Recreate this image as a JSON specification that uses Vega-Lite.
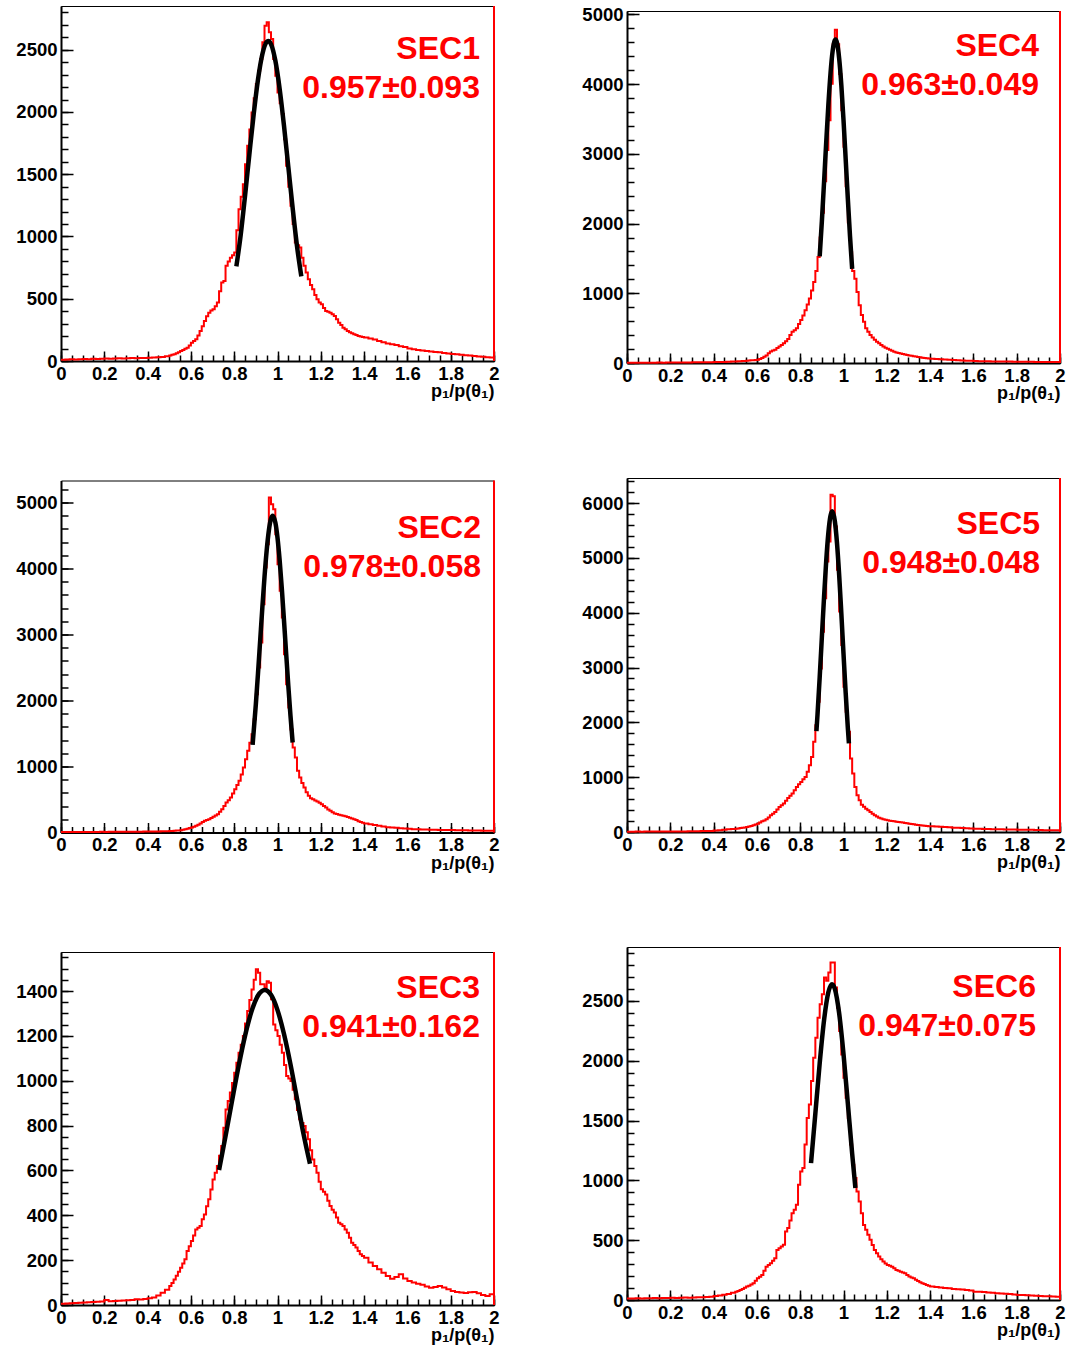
{
"$schema":"https://vega.github.io/schema/vega-lite/v6.json",
"background":"white",
"padding":{"left":15,"top":4,"right":5,"bottom":5},
"spacing":81,
"center":true,
"config":{
 "view":{"stroke":"#000000","strokeWidth":1},
 "axis":{"labelFont":"Liberation Sans","labelFontWeight":"bold","labelFontSize":18.5,"labelColor":"#000000","tickColor":"#000000","tickWidth":1.5,"domainColor":"#000000","domainWidth":2,"labelFlush":false,"labelOverlap":false,"labelBound":false,"grid":false,"format":"~r","titleFont":"Liberation Sans","titleFontWeight":"bold","titleFontSize":18,"titleColor":"#000000"}
},
"datasets":{
"hist":[
{"x":0.00,"SEC1":10,"SEC2":6,"SEC3":6,"SEC4":3,"SEC5":6,"SEC6":12},
{"x":0.02,"SEC1":12,"SEC2":7,"SEC3":7,"SEC4":3,"SEC5":6,"SEC6":13},
{"x":0.04,"SEC1":14,"SEC2":6,"SEC3":8,"SEC4":4,"SEC5":7,"SEC6":14},
{"x":0.06,"SEC1":13,"SEC2":8,"SEC3":9,"SEC4":4,"SEC5":6,"SEC6":13},
{"x":0.08,"SEC1":15,"SEC2":7,"SEC3":10,"SEC4":5,"SEC5":7,"SEC6":15},
{"x":0.10,"SEC1":16,"SEC2":8,"SEC3":11,"SEC4":4,"SEC5":8,"SEC6":14},
{"x":0.12,"SEC1":15,"SEC2":9,"SEC3":12,"SEC4":5,"SEC5":7,"SEC6":16},
{"x":0.14,"SEC1":18,"SEC2":8,"SEC3":13,"SEC4":6,"SEC5":8,"SEC6":15},
{"x":0.16,"SEC1":17,"SEC2":9,"SEC3":14,"SEC4":5,"SEC5":9,"SEC6":17},
{"x":0.18,"SEC1":19,"SEC2":10,"SEC3":16,"SEC4":6,"SEC5":8,"SEC6":16},
{"x":0.20,"SEC1":20,"SEC2":9,"SEC3":22,"SEC4":7,"SEC5":9,"SEC6":18},
{"x":0.22,"SEC1":18,"SEC2":10,"SEC3":17,"SEC4":6,"SEC5":10,"SEC6":17},
{"x":0.24,"SEC1":21,"SEC2":11,"SEC3":18,"SEC4":7,"SEC5":11,"SEC6":19},
{"x":0.26,"SEC1":22,"SEC2":10,"SEC3":19,"SEC4":8,"SEC5":10,"SEC6":20},
{"x":0.28,"SEC1":20,"SEC2":11,"SEC3":20,"SEC4":8,"SEC5":12,"SEC6":19},
{"x":0.30,"SEC1":23,"SEC2":12,"SEC3":21,"SEC4":9,"SEC5":13,"SEC6":21},
{"x":0.32,"SEC1":24,"SEC2":11,"SEC3":22,"SEC4":10,"SEC5":14,"SEC6":22},
{"x":0.34,"SEC1":22,"SEC2":12,"SEC3":26,"SEC4":10,"SEC5":16,"SEC6":24},
{"x":0.36,"SEC1":25,"SEC2":13,"SEC3":24,"SEC4":11,"SEC5":18,"SEC6":26},
{"x":0.38,"SEC1":24,"SEC2":14,"SEC3":27,"SEC4":12,"SEC5":20,"SEC6":28},
{"x":0.40,"SEC1":26,"SEC2":14,"SEC3":30,"SEC4":13,"SEC5":28,"SEC6":34},
{"x":0.42,"SEC1":28,"SEC2":15,"SEC3":33,"SEC4":14,"SEC5":34,"SEC6":38},
{"x":0.44,"SEC1":30,"SEC2":16,"SEC3":42,"SEC4":16,"SEC5":42,"SEC6":44},
{"x":0.46,"SEC1":32,"SEC2":18,"SEC3":55,"SEC4":18,"SEC5":48,"SEC6":50},
{"x":0.48,"SEC1":38,"SEC2":20,"SEC3":68,"SEC4":20,"SEC5":55,"SEC6":60},
{"x":0.50,"SEC1":45,"SEC2":22,"SEC3":85,"SEC4":22,"SEC5":61,"SEC6":70},
{"x":0.51,"SEC1":50,"SEC2":24,"SEC3":98,"SEC4":24,"SEC5":66,"SEC6":76},
{"x":0.52,"SEC1":55,"SEC2":26,"SEC3":114,"SEC4":25,"SEC5":72,"SEC6":84},
{"x":0.53,"SEC1":62,"SEC2":29,"SEC3":130,"SEC4":27,"SEC5":78,"SEC6":92},
{"x":0.54,"SEC1":70,"SEC2":32,"SEC3":148,"SEC4":30,"SEC5":84,"SEC6":102},
{"x":0.55,"SEC1":80,"SEC2":35,"SEC3":166,"SEC4":33,"SEC5":91,"SEC6":112},
{"x":0.56,"SEC1":88,"SEC2":42,"SEC3":185,"SEC4":35,"SEC5":100,"SEC6":120},
{"x":0.57,"SEC1":98,"SEC2":50,"SEC3":204,"SEC4":38,"SEC5":110,"SEC6":130},
{"x":0.58,"SEC1":107,"SEC2":58,"SEC3":241,"SEC4":40,"SEC5":122,"SEC6":140},
{"x":0.59,"SEC1":125,"SEC2":67,"SEC3":262,"SEC4":44,"SEC5":137,"SEC6":160},
{"x":0.60,"SEC1":147,"SEC2":76,"SEC3":285,"SEC4":47,"SEC5":152,"SEC6":182},
{"x":0.61,"SEC1":160,"SEC2":88,"SEC3":310,"SEC4":58,"SEC5":172,"SEC6":195},
{"x":0.62,"SEC1":174,"SEC2":101,"SEC3":337,"SEC4":71,"SEC5":195,"SEC6":209},
{"x":0.63,"SEC1":205,"SEC2":118,"SEC3":345,"SEC4":90,"SEC5":212,"SEC6":245},
{"x":0.64,"SEC1":241,"SEC2":136,"SEC3":352,"SEC4":109,"SEC5":231,"SEC6":279},
{"x":0.65,"SEC1":280,"SEC2":158,"SEC3":382,"SEC4":140,"SEC5":265,"SEC6":292},
{"x":0.66,"SEC1":321,"SEC2":177,"SEC3":404,"SEC4":166,"SEC5":305,"SEC6":307},
{"x":0.67,"SEC1":360,"SEC2":190,"SEC3":440,"SEC4":178,"SEC5":335,"SEC6":328},
{"x":0.68,"SEC1":388,"SEC2":202,"SEC3":471,"SEC4":190,"SEC5":365,"SEC6":349},
{"x":0.69,"SEC1":405,"SEC2":220,"SEC3":515,"SEC4":215,"SEC5":410,"SEC6":419},
{"x":0.70,"SEC1":415,"SEC2":237,"SEC3":560,"SEC4":237,"SEC5":457,"SEC6":433},
{"x":0.71,"SEC1":440,"SEC2":258,"SEC3":590,"SEC4":260,"SEC5":488,"SEC6":447},
{"x":0.72,"SEC1":469,"SEC2":278,"SEC3":620,"SEC4":284,"SEC5":518,"SEC6":461},
{"x":0.73,"SEC1":560,"SEC2":315,"SEC3":665,"SEC4":312,"SEC5":570,"SEC6":573},
{"x":0.74,"SEC1":630,"SEC2":354,"SEC3":709,"SEC4":346,"SEC5":621,"SEC6":601},
{"x":0.75,"SEC1":643,"SEC2":400,"SEC3":790,"SEC4":400,"SEC5":660,"SEC6":665},
{"x":0.76,"SEC1":764,"SEC2":455,"SEC3":872,"SEC4":450,"SEC5":700,"SEC6":726},
{"x":0.77,"SEC1":800,"SEC2":490,"SEC3":910,"SEC4":470,"SEC5":760,"SEC6":754},
{"x":0.78,"SEC1":830,"SEC2":530,"SEC3":947,"SEC4":498,"SEC5":822,"SEC6":796},
{"x":0.79,"SEC1":850,"SEC2":590,"SEC3":990,"SEC4":560,"SEC5":870,"SEC6":964},
{"x":0.80,"SEC1":871,"SEC2":657,"SEC3":1036,"SEC4":616,"SEC5":914,"SEC6":1075},
{"x":0.81,"SEC1":1050,"SEC2":720,"SEC3":1080,"SEC4":680,"SEC5":960,"SEC6":1103},
{"x":0.82,"SEC1":1219,"SEC2":783,"SEC3":1125,"SEC4":758,"SEC5":1005,"SEC6":1299},
{"x":0.83,"SEC1":1320,"SEC2":880,"SEC3":1160,"SEC4":840,"SEC5":1100,"SEC6":1522},
{"x":0.84,"SEC1":1420,"SEC2":985,"SEC3":1199,"SEC4":924,"SEC5":1218,"SEC6":1634},
{"x":0.85,"SEC1":1580,"SEC2":1110,"SEC3":1255,"SEC4":1040,"SEC5":1370,"SEC6":1830},
{"x":0.86,"SEC1":1728,"SEC2":1237,"SEC3":1311,"SEC4":1161,"SEC5":1644,"SEC6":2025},
{"x":0.87,"SEC1":1860,"SEC2":1360,"SEC3":1360,"SEC4":1320,"SEC5":1949,"SEC6":2193},
{"x":0.88,"SEC1":1996,"SEC2":1490,"SEC3":1407,"SEC4":1520,"SEC5":2375,"SEC6":2360},
{"x":0.89,"SEC1":2110,"SEC2":1717,"SEC3":1450,"SEC4":1801,"SEC5":2984,"SEC6":2472},
{"x":0.90,"SEC1":2224,"SEC2":2096,"SEC3":1497,"SEC4":2156,"SEC5":3654,"SEC6":2556},
{"x":0.91,"SEC1":2330,"SEC2":2500,"SEC3":1482,"SEC4":2607,"SEC5":4263,"SEC6":2696},
{"x":0.92,"SEC1":2425,"SEC2":2879,"SEC3":1430,"SEC4":3057,"SEC5":4933,"SEC6":2668},
{"x":0.93,"SEC1":2560,"SEC2":3460,"SEC3":1430,"SEC4":3483,"SEC5":5298,"SEC6":2737},
{"x":0.94,"SEC1":2693,"SEC2":4015,"SEC3":1415,"SEC4":4005,"SEC5":6151,"SEC6":2821},
{"x":0.95,"SEC1":2720,"SEC2":4369,"SEC3":1444,"SEC4":4573,"SEC5":6121,"SEC6":2821},
{"x":0.96,"SEC1":2640,"SEC2":5076,"SEC3":1437,"SEC4":4780,"SEC5":5573,"SEC6":2612},
{"x":0.97,"SEC1":2586,"SEC2":4975,"SEC3":1363,"SEC4":4573,"SEC5":4781,"SEC6":2444},
{"x":0.98,"SEC1":2425,"SEC2":4899,"SEC3":1251,"SEC4":4147,"SEC5":4020,"SEC6":2249},
{"x":0.99,"SEC1":2290,"SEC2":4520,"SEC3":1225,"SEC4":3626,"SEC5":3410,"SEC6":2053},
{"x":1.00,"SEC1":2157,"SEC2":4066,"SEC3":1199,"SEC4":3104,"SEC5":2649,"SEC6":1858},
{"x":1.01,"SEC1":2070,"SEC2":3662,"SEC3":1160,"SEC4":2536,"SEC5":2192,"SEC6":1690},
{"x":1.02,"SEC1":1983,"SEC2":3258,"SEC3":1125,"SEC4":2014,"SEC5":1827,"SEC6":1522},
{"x":1.03,"SEC1":1780,"SEC2":2702,"SEC3":1070,"SEC4":1588,"SEC5":1340,"SEC6":1299},
{"x":1.04,"SEC1":1568,"SEC2":2247,"SEC3":1021,"SEC4":1320,"SEC5":1066,"SEC6":1131},
{"x":1.05,"SEC1":1400,"SEC2":1894,"SEC3":1010,"SEC4":1209,"SEC5":822,"SEC6":1020},
{"x":1.06,"SEC1":1246,"SEC2":1560,"SEC3":999,"SEC4":1019,"SEC5":670,"SEC6":908},
{"x":1.07,"SEC1":1100,"SEC2":1288,"SEC3":960,"SEC4":829,"SEC5":579,"SEC6":824},
{"x":1.08,"SEC1":951,"SEC2":1136,"SEC3":917,"SEC4":687,"SEC5":499,"SEC6":726},
{"x":1.09,"SEC1":930,"SEC2":934,"SEC3":870,"SEC4":592,"SEC5":460,"SEC6":628},
{"x":1.10,"SEC1":911,"SEC2":833,"SEC3":828,"SEC4":498,"SEC5":426,"SEC6":587},
{"x":1.11,"SEC1":830,"SEC2":750,"SEC3":812,"SEC4":450,"SEC5":395,"SEC6":545},
{"x":1.12,"SEC1":764,"SEC2":682,"SEC3":798,"SEC4":403,"SEC5":365,"SEC6":503},
{"x":1.13,"SEC1":710,"SEC2":610,"SEC3":770,"SEC4":365,"SEC5":335,"SEC6":460},
{"x":1.14,"SEC1":656,"SEC2":556,"SEC3":739,"SEC4":332,"SEC5":305,"SEC6":419},
{"x":1.15,"SEC1":610,"SEC2":520,"SEC3":690,"SEC4":305,"SEC5":282,"SEC6":390},
{"x":1.16,"SEC1":576,"SEC2":505,"SEC3":649,"SEC4":284,"SEC5":262,"SEC6":363},
{"x":1.17,"SEC1":530,"SEC2":485,"SEC3":620,"SEC4":260,"SEC5":245,"SEC6":340},
{"x":1.18,"SEC1":496,"SEC2":470,"SEC3":590,"SEC4":237,"SEC5":231,"SEC6":321},
{"x":1.19,"SEC1":470,"SEC2":450,"SEC3":550,"SEC4":220,"SEC5":222,"SEC6":305},
{"x":1.20,"SEC1":455,"SEC2":429,"SEC3":516,"SEC4":204,"SEC5":213,"SEC6":293},
{"x":1.21,"SEC1":425,"SEC2":400,"SEC3":505,"SEC4":190,"SEC5":206,"SEC6":286},
{"x":1.22,"SEC1":402,"SEC2":379,"SEC3":493,"SEC4":175,"SEC5":200,"SEC6":279},
{"x":1.23,"SEC1":395,"SEC2":350,"SEC3":465,"SEC4":163,"SEC5":194,"SEC6":265},
{"x":1.24,"SEC1":388,"SEC2":328,"SEC3":441,"SEC4":152,"SEC5":188,"SEC6":251},
{"x":1.25,"SEC1":375,"SEC2":305,"SEC3":425,"SEC4":142,"SEC5":183,"SEC6":244},
{"x":1.26,"SEC1":362,"SEC2":288,"SEC3":412,"SEC4":135,"SEC5":177,"SEC6":237},
{"x":1.27,"SEC1":335,"SEC2":280,"SEC3":390,"SEC4":128,"SEC5":171,"SEC6":230},
{"x":1.28,"SEC1":308,"SEC2":270,"SEC3":367,"SEC4":121,"SEC5":164,"SEC6":223},
{"x":1.29,"SEC1":290,"SEC2":262,"SEC3":360,"SEC4":115,"SEC5":158,"SEC6":210},
{"x":1.30,"SEC1":268,"SEC2":253,"SEC3":352,"SEC4":109,"SEC5":152,"SEC6":196},
{"x":1.31,"SEC1":255,"SEC2":245,"SEC3":337,"SEC4":103,"SEC5":146,"SEC6":189},
{"x":1.32,"SEC1":241,"SEC2":235,"SEC3":322,"SEC4":97,"SEC5":140,"SEC6":182},
{"x":1.33,"SEC1":230,"SEC2":225,"SEC3":300,"SEC4":92,"SEC5":134,"SEC6":170},
{"x":1.34,"SEC1":222,"SEC2":212,"SEC3":278,"SEC4":86,"SEC5":128,"SEC6":159},
{"x":1.35,"SEC1":214,"SEC2":202,"SEC3":267,"SEC4":81,"SEC5":122,"SEC6":148},
{"x":1.36,"SEC1":208,"SEC2":188,"SEC3":256,"SEC4":77,"SEC5":118,"SEC6":140},
{"x":1.37,"SEC1":200,"SEC2":172,"SEC3":241,"SEC4":73,"SEC5":114,"SEC6":133},
{"x":1.38,"SEC1":196,"SEC2":158,"SEC3":226,"SEC4":69,"SEC5":110,"SEC6":126},
{"x":1.39,"SEC1":192,"SEC2":146,"SEC3":218,"SEC4":65,"SEC5":107,"SEC6":119},
{"x":1.40,"SEC1":188,"SEC2":136,"SEC3":211,"SEC4":62,"SEC5":104,"SEC6":112},
{"x":1.42,"SEC1":180,"SEC2":125,"SEC3":189,"SEC4":58,"SEC5":100,"SEC6":108},
{"x":1.44,"SEC1":172,"SEC2":112,"SEC3":174,"SEC4":54,"SEC5":95,"SEC6":104},
{"x":1.46,"SEC1":161,"SEC2":101,"SEC3":159,"SEC4":50,"SEC5":90,"SEC6":100},
{"x":1.48,"SEC1":150,"SEC2":90,"SEC3":144,"SEC4":46,"SEC5":85,"SEC6":98},
{"x":1.50,"SEC1":140,"SEC2":80,"SEC3":129,"SEC4":43,"SEC5":79,"SEC6":92},
{"x":1.52,"SEC1":134,"SEC2":76,"SEC3":117,"SEC4":40,"SEC5":76,"SEC6":90},
{"x":1.54,"SEC1":128,"SEC2":72,"SEC3":125,"SEC4":37,"SEC5":73,"SEC6":88},
{"x":1.56,"SEC1":118,"SEC2":66,"SEC3":137,"SEC4":34,"SEC5":70,"SEC6":84},
{"x":1.58,"SEC1":112,"SEC2":60,"SEC3":118,"SEC4":31,"SEC5":66,"SEC6":80},
{"x":1.60,"SEC1":100,"SEC2":55,"SEC3":107,"SEC4":28,"SEC5":61,"SEC6":70},
{"x":1.62,"SEC1":94,"SEC2":51,"SEC3":100,"SEC4":26,"SEC5":58,"SEC6":68},
{"x":1.64,"SEC1":88,"SEC2":48,"SEC3":95,"SEC4":25,"SEC5":56,"SEC6":66},
{"x":1.66,"SEC1":84,"SEC2":46,"SEC3":90,"SEC4":24,"SEC5":54,"SEC6":62},
{"x":1.68,"SEC1":80,"SEC2":44,"SEC3":82,"SEC4":23,"SEC5":52,"SEC6":60},
{"x":1.70,"SEC1":76,"SEC2":42,"SEC3":77,"SEC4":22,"SEC5":49,"SEC6":56},
{"x":1.72,"SEC1":72,"SEC2":40,"SEC3":80,"SEC4":21,"SEC5":48,"SEC6":54},
{"x":1.74,"SEC1":70,"SEC2":39,"SEC3":85,"SEC4":20,"SEC5":47,"SEC6":52},
{"x":1.76,"SEC1":65,"SEC2":38,"SEC3":78,"SEC4":20,"SEC5":46,"SEC6":50},
{"x":1.78,"SEC1":60,"SEC2":37,"SEC3":70,"SEC4":19,"SEC5":44,"SEC6":46},
{"x":1.80,"SEC1":56,"SEC2":36,"SEC3":62,"SEC4":19,"SEC5":43,"SEC6":42},
{"x":1.82,"SEC1":54,"SEC2":35,"SEC3":58,"SEC4":18,"SEC5":42,"SEC6":41},
{"x":1.84,"SEC1":50,"SEC2":34,"SEC3":56,"SEC4":17,"SEC5":40,"SEC6":40},
{"x":1.86,"SEC1":47,"SEC2":33,"SEC3":54,"SEC4":17,"SEC5":39,"SEC6":38},
{"x":1.88,"SEC1":44,"SEC2":31,"SEC3":57,"SEC4":16,"SEC5":37,"SEC6":36},
{"x":1.90,"SEC1":40,"SEC2":30,"SEC3":58,"SEC4":16,"SEC5":36,"SEC6":34},
{"x":1.92,"SEC1":37,"SEC2":29,"SEC3":52,"SEC4":15,"SEC5":34,"SEC6":32},
{"x":1.94,"SEC1":34,"SEC2":28,"SEC3":45,"SEC4":15,"SEC5":33,"SEC6":31},
{"x":1.96,"SEC1":30,"SEC2":27,"SEC3":40,"SEC4":14,"SEC5":31,"SEC6":30},
{"x":1.98,"SEC1":28,"SEC2":26,"SEC3":48,"SEC4":14,"SEC5":30,"SEC6":28},
{"x":2.00,"SEC1":28,"SEC2":26,"SEC3":48,"SEC4":14,"SEC5":30,"SEC6":28}
],
"fit":[
{"p":"SEC1","x":0.81,"f":760},{"p":"SEC1","x":0.83,"f":1012},{"p":"SEC1","x":0.85,"f":1326},{"p":"SEC1","x":0.87,"f":1659},{"p":"SEC1","x":0.89,"f":1982},{"p":"SEC1","x":0.91,"f":2262},{"p":"SEC1","x":0.93,"f":2464},{"p":"SEC1","x":0.95,"f":2563},{"p":"SEC1","x":0.957,"f":2570},{"p":"SEC1","x":0.97,"f":2545},{"p":"SEC1","x":0.99,"f":2413},{"p":"SEC1","x":1.01,"f":2185},{"p":"SEC1","x":1.03,"f":1889},{"p":"SEC1","x":1.05,"f":1559},{"p":"SEC1","x":1.07,"f":1228},{"p":"SEC1","x":1.09,"f":924},{"p":"SEC1","x":1.11,"f":680},
{"p":"SEC2","x":0.885,"f":1327},{"p":"SEC2","x":0.90,"f":1943},{"p":"SEC2","x":0.91,"f":2414},{"p":"SEC2","x":0.92,"f":2911},{"p":"SEC2","x":0.93,"f":3408},{"p":"SEC2","x":0.94,"f":3873},{"p":"SEC2","x":0.95,"f":4272},{"p":"SEC2","x":0.96,"f":4574},{"p":"SEC2","x":0.97,"f":4754},{"p":"SEC2","x":0.978,"f":4800},{"p":"SEC2","x":0.99,"f":4698},{"p":"SEC2","x":1.00,"f":4467},{"p":"SEC2","x":1.01,"f":4122},{"p":"SEC2","x":1.02,"f":3693},{"p":"SEC2","x":1.03,"f":3212},{"p":"SEC2","x":1.04,"f":2711},{"p":"SEC2","x":1.05,"f":2221},{"p":"SEC2","x":1.06,"f":1767},{"p":"SEC2","x":1.07,"f":1364},
{"p":"SEC3","x":0.73,"f":602},{"p":"SEC3","x":0.76,"f":753},{"p":"SEC3","x":0.79,"f":910},{"p":"SEC3","x":0.82,"f":1063},{"p":"SEC3","x":0.85,"f":1200},{"p":"SEC3","x":0.88,"f":1309},{"p":"SEC3","x":0.91,"f":1380},{"p":"SEC3","x":0.941,"f":1405},{"p":"SEC3","x":0.97,"f":1383},{"p":"SEC3","x":1.00,"f":1315},{"p":"SEC3","x":1.03,"f":1208},{"p":"SEC3","x":1.06,"f":1073},{"p":"SEC3","x":1.09,"f":920},{"p":"SEC3","x":1.12,"f":763},{"p":"SEC3","x":1.15,"f":630},
{"p":"SEC4","x":0.89,"f":1530},{"p":"SEC4","x":0.90,"f":2030},{"p":"SEC4","x":0.91,"f":2585},{"p":"SEC4","x":0.92,"f":3157},{"p":"SEC4","x":0.93,"f":3699},{"p":"SEC4","x":0.94,"f":4156},{"p":"SEC4","x":0.95,"f":4479},{"p":"SEC4","x":0.963,"f":4640},{"p":"SEC4","x":0.97,"f":4593},{"p":"SEC4","x":0.98,"f":4369},{"p":"SEC4","x":0.99,"f":3987},{"p":"SEC4","x":1.00,"f":3489},{"p":"SEC4","x":1.01,"f":2929},{"p":"SEC4","x":1.02,"f":2358},{"p":"SEC4","x":1.03,"f":1822},{"p":"SEC4","x":1.04,"f":1350},
{"p":"SEC5","x":0.875,"f":1841},{"p":"SEC5","x":0.88,"f":2145},{"p":"SEC5","x":0.89,"f":2819},{"p":"SEC5","x":0.90,"f":3548},{"p":"SEC5","x":0.91,"f":4276},{"p":"SEC5","x":0.92,"f":4935},{"p":"SEC5","x":0.93,"f":5453},{"p":"SEC5","x":0.94,"f":5769},{"p":"SEC5","x":0.948,"f":5850},{"p":"SEC5","x":0.96,"f":5670},{"p":"SEC5","x":0.97,"f":5267},{"p":"SEC5","x":0.98,"f":4684},{"p":"SEC5","x":0.99,"f":3989},{"p":"SEC5","x":1.00,"f":3253},{"p":"SEC5","x":1.01,"f":2540},{"p":"SEC5","x":1.02,"f":1900},{"p":"SEC5","x":1.025,"f":1616},
{"p":"SEC6","x":0.85,"f":1144},{"p":"SEC6","x":0.87,"f":1559},{"p":"SEC6","x":0.89,"f":1978},{"p":"SEC6","x":0.91,"f":2337},{"p":"SEC6","x":0.93,"f":2573},{"p":"SEC6","x":0.947,"f":2640},{"p":"SEC6","x":0.96,"f":2601},{"p":"SEC6","x":0.98,"f":2396},{"p":"SEC6","x":1.00,"f":2057},{"p":"SEC6","x":1.02,"f":1644},{"p":"SEC6","x":1.04,"f":1224},{"p":"SEC6","x":1.055,"f":936}
],
"labels":[
{"p":"SEC1","t":"SEC1\n0.957±0.093"},
{"p":"SEC2","t":"SEC2\n0.978±0.058"},
{"p":"SEC3","t":"SEC3\n0.941±0.162"},
{"p":"SEC4","t":"SEC4\n0.963±0.049"},
{"p":"SEC5","t":"SEC5\n0.948±0.048"},
{"p":"SEC6","t":"SEC6\n0.947±0.075"}
]
},
"hconcat":[
{"bounds":"flush","spacing":119.5,"vconcat":[
{"width":433,"height":355,"resolve":{"axis":{"x":"independent","y":"independent"}},"layer":[
 {"data":{"name":"hist"},"mark":{"type":"line","interpolate":"step-after","color":"#ff0000","strokeWidth":2},
  "encoding":{"x":{"field":"x","type":"quantitative","scale":{"domain":[0,2],"nice":false,"zero":false},"axis":{"orient":"bottom","values":[0,0.2,0.4,0.6,0.8,1,1.2,1.4,1.6,1.8,2],"tickSize":-10,"labelPadding":13,"title":"p₁/p(θ₁)","titleAnchor":"end","titlePadding":0}},
   "y":{"field":"SEC1","type":"quantitative","scale":{"domain":[0,2851],"nice":false},"axis":{"orient":"left","values":[0,500,1000,1500,2000,2500],"tickSize":-12,"labelPadding":16,"title":null}}}},
 {"data":{"name":"fit"},"transform":[{"filter":"datum.p === 'SEC1'"}],"mark":{"type":"line","color":"#000000","strokeWidth":4.5,"interpolate":"monotone"},
  "encoding":{"x":{"field":"x","type":"quantitative","scale":{"domain":[0,2],"nice":false,"zero":false},"axis":{"orient":"bottom","values":[0,0.05,0.1,0.15,0.2,0.25,0.3,0.35,0.4,0.45,0.5,0.55,0.6,0.65,0.7,0.75,0.8,0.85,0.9,0.95,1,1.05,1.1,1.15,1.2,1.25,1.3,1.35,1.4,1.45,1.5,1.55,1.6,1.65,1.7,1.75,1.8,1.85,1.9,1.95,2],"tickSize":-6,"labels":false,"domain":false,"title":null}},
   "y":{"field":"f","type":"quantitative","scale":{"domain":[0,2851],"nice":false},"axis":{"orient":"left","values":[0,100,200,300,400,500,600,700,800,900,1000,1100,1200,1300,1400,1500,1600,1700,1800,1900,2000,2100,2200,2300,2400,2500,2600,2700,2800],"tickSize":-7,"labels":false,"domain":false,"title":null}}}},
 {"data":{"values":[{}]},"mark":{"type":"rule","color":"#ff0000","strokeWidth":2},"encoding":{"x":{"datum":2,"type":"quantitative","axis":null}}},
 {"data":{"name":"labels"},"transform":[{"filter":"datum.p === 'SEC1'"}],"mark":{"type":"text","align":"right","baseline":"alphabetic","font":"Liberation Sans","fontWeight":"bold","fontSize":32,"color":"#ff0000","lineBreak":"\n","lineHeight":39},
  "encoding":{"x":{"datum":1.935,"type":"quantitative","axis":null},"y":{"datum":2425,"type":"quantitative","axis":null},"text":{"field":"t"}}}
]},
{"width":433,"height":352,"resolve":{"axis":{"x":"independent","y":"independent"}},"layer":[
 {"data":{"name":"hist"},"mark":{"type":"line","interpolate":"step-after","color":"#ff0000","strokeWidth":2},
  "encoding":{"x":{"field":"x","type":"quantitative","scale":{"domain":[0,2],"nice":false,"zero":false},"axis":{"orient":"bottom","values":[0,0.2,0.4,0.6,0.8,1,1.2,1.4,1.6,1.8,2],"tickSize":-10,"labelPadding":13,"title":"p₁/p(θ₁)","titleAnchor":"end","titlePadding":0}},
   "y":{"field":"SEC2","type":"quantitative","scale":{"domain":[0,5333],"nice":false},"axis":{"orient":"left","values":[0,1000,2000,3000,4000,5000],"tickSize":-12,"labelPadding":16,"title":null}}}},
 {"data":{"name":"fit"},"transform":[{"filter":"datum.p === 'SEC2'"}],"mark":{"type":"line","color":"#000000","strokeWidth":4.5,"interpolate":"monotone"},
  "encoding":{"x":{"field":"x","type":"quantitative","scale":{"domain":[0,2],"nice":false,"zero":false},"axis":{"orient":"bottom","values":[0,0.05,0.1,0.15,0.2,0.25,0.3,0.35,0.4,0.45,0.5,0.55,0.6,0.65,0.7,0.75,0.8,0.85,0.9,0.95,1,1.05,1.1,1.15,1.2,1.25,1.3,1.35,1.4,1.45,1.5,1.55,1.6,1.65,1.7,1.75,1.8,1.85,1.9,1.95,2],"tickSize":-6,"labels":false,"domain":false,"title":null}},
   "y":{"field":"f","type":"quantitative","scale":{"domain":[0,5333],"nice":false},"axis":{"orient":"left","values":[0,200,400,600,800,1000,1200,1400,1600,1800,2000,2200,2400,2600,2800,3000,3200,3400,3600,3800,4000,4200,4400,4600,4800,5000,5200],"tickSize":-7,"labels":false,"domain":false,"title":null}}}},
 {"data":{"values":[{}]},"mark":{"type":"rule","color":"#ff0000","strokeWidth":2},"encoding":{"x":{"datum":2,"type":"quantitative","axis":null}}},
 {"data":{"name":"labels"},"transform":[{"filter":"datum.p === 'SEC2'"}],"mark":{"type":"text","align":"right","baseline":"alphabetic","font":"Liberation Sans","fontWeight":"bold","fontSize":32,"color":"#ff0000","lineBreak":"\n","lineHeight":39},
  "encoding":{"x":{"datum":1.94,"type":"quantitative","axis":null},"y":{"datum":4469,"type":"quantitative","axis":null},"text":{"field":"t"}}}
]},
{"width":433,"height":353,"resolve":{"axis":{"x":"independent","y":"independent"}},"layer":[
 {"data":{"name":"hist"},"mark":{"type":"line","interpolate":"step-after","color":"#ff0000","strokeWidth":2},
  "encoding":{"x":{"field":"x","type":"quantitative","scale":{"domain":[0,2],"nice":false,"zero":false},"axis":{"orient":"bottom","values":[0,0.2,0.4,0.6,0.8,1,1.2,1.4,1.6,1.8,2],"tickSize":-10,"labelPadding":13,"title":"p₁/p(θ₁)","titleAnchor":"end","titlePadding":0}},
   "y":{"field":"SEC3","type":"quantitative","scale":{"domain":[0,1574],"nice":false},"axis":{"orient":"left","values":[0,200,400,600,800,1000,1200,1400],"tickSize":-12,"labelPadding":16,"title":null}}}},
 {"data":{"name":"fit"},"transform":[{"filter":"datum.p === 'SEC3'"}],"mark":{"type":"line","color":"#000000","strokeWidth":4.5,"interpolate":"monotone"},
  "encoding":{"x":{"field":"x","type":"quantitative","scale":{"domain":[0,2],"nice":false,"zero":false},"axis":{"orient":"bottom","values":[0,0.05,0.1,0.15,0.2,0.25,0.3,0.35,0.4,0.45,0.5,0.55,0.6,0.65,0.7,0.75,0.8,0.85,0.9,0.95,1,1.05,1.1,1.15,1.2,1.25,1.3,1.35,1.4,1.45,1.5,1.55,1.6,1.65,1.7,1.75,1.8,1.85,1.9,1.95,2],"tickSize":-6,"labels":false,"domain":false,"title":null}},
   "y":{"field":"f","type":"quantitative","scale":{"domain":[0,1574],"nice":false},"axis":{"orient":"left","values":[0,50,100,150,200,250,300,350,400,450,500,550,600,650,700,750,800,850,900,950,1000,1050,1100,1150,1200,1250,1300,1350,1400,1450,1500,1550],"tickSize":-7,"labels":false,"domain":false,"title":null}}}},
 {"data":{"values":[{}]},"mark":{"type":"rule","color":"#ff0000","strokeWidth":2},"encoding":{"x":{"datum":2,"type":"quantitative","axis":null}}},
 {"data":{"name":"labels"},"transform":[{"filter":"datum.p === 'SEC3'"}],"mark":{"type":"text","align":"right","baseline":"alphabetic","font":"Liberation Sans","fontWeight":"bold","fontSize":32,"color":"#ff0000","lineBreak":"\n","lineHeight":39},
  "encoding":{"x":{"datum":1.935,"type":"quantitative","axis":null},"y":{"datum":1369,"type":"quantitative","axis":null},"text":{"field":"t"}}}
]}
]},
{"bounds":"flush","spacing":115,"vconcat":[
{"width":433,"height":352,"resolve":{"axis":{"x":"independent","y":"independent"}},"layer":[
 {"data":{"name":"hist"},"mark":{"type":"line","interpolate":"step-after","color":"#ff0000","strokeWidth":2},
  "encoding":{"x":{"field":"x","type":"quantitative","scale":{"domain":[0,2],"nice":false,"zero":false},"axis":{"orient":"bottom","values":[0,0.2,0.4,0.6,0.8,1,1.2,1.4,1.6,1.8,2],"tickSize":-10,"labelPadding":13,"title":"p₁/p(θ₁)","titleAnchor":"end","titlePadding":0}},
   "y":{"field":"SEC4","type":"quantitative","scale":{"domain":[0,5050],"nice":false},"axis":{"orient":"left","values":[0,1000,2000,3000,4000,5000],"tickSize":-12,"labelPadding":16,"title":null}}}},
 {"data":{"name":"fit"},"transform":[{"filter":"datum.p === 'SEC4'"}],"mark":{"type":"line","color":"#000000","strokeWidth":4.5,"interpolate":"monotone"},
  "encoding":{"x":{"field":"x","type":"quantitative","scale":{"domain":[0,2],"nice":false,"zero":false},"axis":{"orient":"bottom","values":[0,0.05,0.1,0.15,0.2,0.25,0.3,0.35,0.4,0.45,0.5,0.55,0.6,0.65,0.7,0.75,0.8,0.85,0.9,0.95,1,1.05,1.1,1.15,1.2,1.25,1.3,1.35,1.4,1.45,1.5,1.55,1.6,1.65,1.7,1.75,1.8,1.85,1.9,1.95,2],"tickSize":-6,"labels":false,"domain":false,"title":null}},
   "y":{"field":"f","type":"quantitative","scale":{"domain":[0,5050],"nice":false},"axis":{"orient":"left","values":[0,200,400,600,800,1000,1200,1400,1600,1800,2000,2200,2400,2600,2800,3000,3200,3400,3600,3800,4000,4200,4400,4600,4800,5000],"tickSize":-7,"labels":false,"domain":false,"title":null}}}},
 {"data":{"values":[{}]},"mark":{"type":"rule","color":"#ff0000","strokeWidth":2},"encoding":{"x":{"datum":2,"type":"quantitative","axis":null}}},
 {"data":{"name":"labels"},"transform":[{"filter":"datum.p === 'SEC4'"}],"mark":{"type":"text","align":"right","baseline":"alphabetic","font":"Liberation Sans","fontWeight":"bold","fontSize":32,"color":"#ff0000","lineBreak":"\n","lineHeight":39},
  "encoding":{"x":{"datum":1.903,"type":"quantitative","axis":null},"y":{"datum":4404,"type":"quantitative","axis":null},"text":{"field":"t"}}}
]},
{"width":433,"height":354,"resolve":{"axis":{"x":"independent","y":"independent"}},"layer":[
 {"data":{"name":"hist"},"mark":{"type":"line","interpolate":"step-after","color":"#ff0000","strokeWidth":2},
  "encoding":{"x":{"field":"x","type":"quantitative","scale":{"domain":[0,2],"nice":false,"zero":false},"axis":{"orient":"bottom","values":[0,0.2,0.4,0.6,0.8,1,1.2,1.4,1.6,1.8,2],"tickSize":-10,"labelPadding":13,"title":"p₁/p(θ₁)","titleAnchor":"end","titlePadding":0}},
   "y":{"field":"SEC5","type":"quantitative","scale":{"domain":[0,6456],"nice":false},"axis":{"orient":"left","values":[0,1000,2000,3000,4000,5000,6000],"tickSize":-12,"labelPadding":16,"title":null}}}},
 {"data":{"name":"fit"},"transform":[{"filter":"datum.p === 'SEC5'"}],"mark":{"type":"line","color":"#000000","strokeWidth":4.5,"interpolate":"monotone"},
  "encoding":{"x":{"field":"x","type":"quantitative","scale":{"domain":[0,2],"nice":false,"zero":false},"axis":{"orient":"bottom","values":[0,0.05,0.1,0.15,0.2,0.25,0.3,0.35,0.4,0.45,0.5,0.55,0.6,0.65,0.7,0.75,0.8,0.85,0.9,0.95,1,1.05,1.1,1.15,1.2,1.25,1.3,1.35,1.4,1.45,1.5,1.55,1.6,1.65,1.7,1.75,1.8,1.85,1.9,1.95,2],"tickSize":-6,"labels":false,"domain":false,"title":null}},
   "y":{"field":"f","type":"quantitative","scale":{"domain":[0,6456],"nice":false},"axis":{"orient":"left","values":[0,200,400,600,800,1000,1200,1400,1600,1800,2000,2200,2400,2600,2800,3000,3200,3400,3600,3800,4000,4200,4400,4600,4800,5000,5200,5400,5600,5800,6000,6200,6400],"tickSize":-7,"labels":false,"domain":false,"title":null}}}},
 {"data":{"values":[{}]},"mark":{"type":"rule","color":"#ff0000","strokeWidth":2},"encoding":{"x":{"datum":2,"type":"quantitative","axis":null}}},
 {"data":{"name":"labels"},"transform":[{"filter":"datum.p === 'SEC5'"}],"mark":{"type":"text","align":"right","baseline":"alphabetic","font":"Liberation Sans","fontWeight":"bold","fontSize":32,"color":"#ff0000","lineBreak":"\n","lineHeight":39},
  "encoding":{"x":{"datum":1.908,"type":"quantitative","axis":null},"y":{"datum":5435,"type":"quantitative","axis":null},"text":{"field":"t"}}}
]},
{"width":433,"height":353,"resolve":{"axis":{"x":"independent","y":"independent"}},"layer":[
 {"data":{"name":"hist"},"mark":{"type":"line","interpolate":"step-after","color":"#ff0000","strokeWidth":2},
  "encoding":{"x":{"field":"x","type":"quantitative","scale":{"domain":[0,2],"nice":false,"zero":false},"axis":{"orient":"bottom","values":[0,0.2,0.4,0.6,0.8,1,1.2,1.4,1.6,1.8,2],"tickSize":-10,"labelPadding":13,"title":"p₁/p(θ₁)","titleAnchor":"end","titlePadding":0}},
   "y":{"field":"SEC6","type":"quantitative","scale":{"domain":[0,2951],"nice":false},"axis":{"orient":"left","values":[0,500,1000,1500,2000,2500],"tickSize":-12,"labelPadding":16,"title":null}}}},
 {"data":{"name":"fit"},"transform":[{"filter":"datum.p === 'SEC6'"}],"mark":{"type":"line","color":"#000000","strokeWidth":4.5,"interpolate":"monotone"},
  "encoding":{"x":{"field":"x","type":"quantitative","scale":{"domain":[0,2],"nice":false,"zero":false},"axis":{"orient":"bottom","values":[0,0.05,0.1,0.15,0.2,0.25,0.3,0.35,0.4,0.45,0.5,0.55,0.6,0.65,0.7,0.75,0.8,0.85,0.9,0.95,1,1.05,1.1,1.15,1.2,1.25,1.3,1.35,1.4,1.45,1.5,1.55,1.6,1.65,1.7,1.75,1.8,1.85,1.9,1.95,2],"tickSize":-6,"labels":false,"domain":false,"title":null}},
   "y":{"field":"f","type":"quantitative","scale":{"domain":[0,2951],"nice":false},"axis":{"orient":"left","values":[0,100,200,300,400,500,600,700,800,900,1000,1100,1200,1300,1400,1500,1600,1700,1800,1900,2000,2100,2200,2300,2400,2500,2600,2700,2800,2900],"tickSize":-7,"labels":false,"domain":false,"title":null}}}},
 {"data":{"values":[{}]},"mark":{"type":"rule","color":"#ff0000","strokeWidth":2},"encoding":{"x":{"datum":2,"type":"quantitative","axis":null}}},
 {"data":{"name":"labels"},"transform":[{"filter":"datum.p === 'SEC6'"}],"mark":{"type":"text","align":"right","baseline":"alphabetic","font":"Liberation Sans","fontWeight":"bold","fontSize":32,"color":"#ff0000","lineBreak":"\n","lineHeight":39},
  "encoding":{"x":{"datum":1.889,"type":"quantitative","axis":null},"y":{"datum":2533,"type":"quantitative","axis":null},"text":{"field":"t"}}}
]}
]}
]
}
